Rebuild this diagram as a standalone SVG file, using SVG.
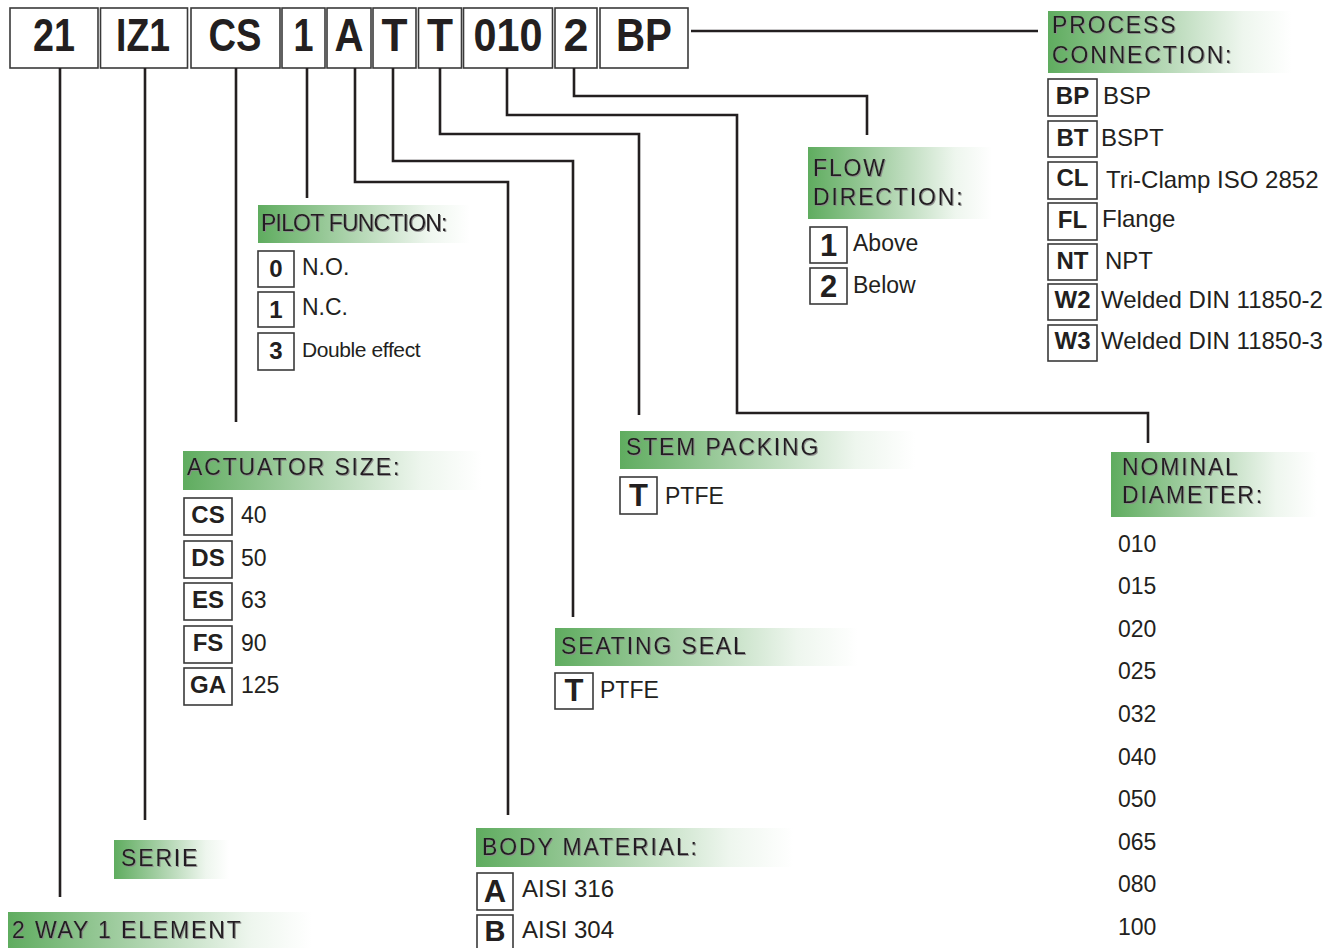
<svg xmlns="http://www.w3.org/2000/svg" width="1337" height="948" viewBox="0 0 1337 948">
<defs>
<linearGradient id="g" x1="0" y1="0" x2="1" y2="0">
<stop offset="0" stop-color="#5fac5f"/>
<stop offset="0.45" stop-color="#b0d5b0"/>
<stop offset="0.8" stop-color="#eef6ee"/>
<stop offset="1" stop-color="#ffffff"/>
</linearGradient>
<filter id="sh" x="-5%" y="-20%" width="110%" height="140%">
<feDropShadow dx="1" dy="1" stdDeviation="0.3" flood-color="#8a8a8a" flood-opacity="0.9"/>
</filter>
</defs>
<style>
text{font-family:"Liberation Sans",Arial,sans-serif;fill:#231f20}
.code rect{fill:#fff;stroke:#3a3a3a;stroke-width:1.6}
.ct{font-weight:bold;font-size:46px;text-anchor:middle}
.hd rect.bg{fill:url(#g)}
.ht{font-size:23px;letter-spacing:1.85px;filter:url(#sh)}
.box{fill:#fff;stroke:#3a3a3a;stroke-width:1.6}
.k{font-weight:bold;font-size:24px;text-anchor:middle}
.kb{font-weight:bold;font-size:31px;text-anchor:middle}
.v{font-size:23px}
.vl{font-size:24px}
#connectors path{fill:none;stroke:#231f20;stroke-width:2.6}
</style>
<rect width="1337" height="948" fill="#fff"/>

<g id="code" class="code">
<rect x="10" y="8" width="88" height="60"/><text class="ct" x="54" y="51" textLength="42" lengthAdjust="spacingAndGlyphs">21</text>
<rect x="100.5" y="8" width="87" height="60"/><text class="ct" x="143" y="51" textLength="54" lengthAdjust="spacingAndGlyphs">IZ1</text>
<rect x="191" y="8" width="89" height="60"/><text class="ct" x="235" y="51" textLength="53" lengthAdjust="spacingAndGlyphs">CS</text>
<rect x="282" y="8" width="43" height="60"/><text class="ct" x="303.5" y="51" textLength="20" lengthAdjust="spacingAndGlyphs">1</text>
<rect x="327" y="8" width="44" height="60"/><text class="ct" x="349" y="51" textLength="29" lengthAdjust="spacingAndGlyphs">A</text>
<rect x="373" y="8" width="43" height="60"/><text class="ct" x="394.5" y="51" textLength="26" lengthAdjust="spacingAndGlyphs">T</text>
<rect x="418.5" y="8" width="43" height="60"/><text class="ct" x="440" y="51" textLength="26" lengthAdjust="spacingAndGlyphs">T</text>
<rect x="463.5" y="8" width="89" height="60"/><text class="ct" x="508" y="51" textLength="69" lengthAdjust="spacingAndGlyphs">010</text>
<rect x="555" y="8" width="42" height="60"/><text class="ct" x="576" y="51" textLength="25" lengthAdjust="spacingAndGlyphs">2</text>
<rect x="600" y="8" width="88" height="60"/><text class="ct" x="644" y="51" textLength="56" lengthAdjust="spacingAndGlyphs">BP</text>
</g>

<g id="connectors">
<path d="M60,68V897"/>
<path d="M145,68V820"/>
<path d="M236,68V422"/>
<path d="M307,68V198"/>
<path d="M355,68V182H508V815"/>
<path d="M393,68V161H573V617"/>
<path d="M440,68V134H639V415"/>
<path d="M507,68V115H737V413H1148V443"/>
<path d="M574,68V96H867V135"/>
<path d="M691,31H1038"/>
</g>

<g id="process-connection" class="hd">
<rect class="bg" x="1048" y="11" width="244" height="62"/>
<text class="ht" x="1052" y="33">PROCESS</text>
<text class="ht" x="1052" y="63">CONNECTION:</text>
<rect class="box" x="1048" y="79" width="49" height="37"/><text class="k" x="1072.5" y="104">BP</text><text class="vl" x="1103" y="104">BSP</text>
<rect class="box" x="1048" y="121" width="49" height="36"/><text class="k" x="1072.5" y="146">BT</text><text class="vl" x="1101" y="146">BSPT</text>
<rect class="box" x="1048" y="162" width="49" height="37"/><text class="k" x="1072.5" y="186">CL</text><text class="vl" x="1106" y="188">Tri-Clamp ISO 2852</text>
<rect class="box" x="1048" y="203" width="49" height="37"/><text class="k" x="1072.5" y="228">FL</text><text class="vl" x="1102" y="227">Flange</text>
<rect class="box" x="1048" y="244" width="49" height="36"/><text class="k" x="1072.5" y="269">NT</text><text class="vl" x="1105" y="269">NPT</text>
<rect class="box" x="1048" y="284" width="49" height="36"/><text class="k" x="1072.5" y="308">W2</text><text class="vl" x="1101" y="308">Welded DIN 11850-2</text>
<rect class="box" x="1048" y="325" width="49" height="36"/><text class="k" x="1072.5" y="349">W3</text><text class="vl" x="1101" y="349">Welded DIN 11850-3</text>
</g>

<g id="flow-direction" class="hd">
<rect class="bg" x="808" y="147" width="184" height="72"/>
<text class="ht" x="813" y="176">FLOW</text>
<text class="ht" x="813" y="205">DIRECTION:</text>
<rect class="box" x="810" y="227" width="37" height="36"/><text class="kb" x="828.5" y="256">1</text><text class="v" x="853" y="251">Above</text>
<rect class="box" x="810" y="268" width="37" height="36"/><text class="kb" x="828.5" y="297">2</text><text class="v" x="853" y="293">Below</text>
</g>

<g id="pilot-function" class="hd">
<rect class="bg" x="258" y="205" width="212" height="38"/>
<text class="ht" x="261" y="231" style="letter-spacing:-0.8px">PILOT FUNCTION:</text>
<rect class="box" x="258" y="251" width="36" height="36"/><text class="k" x="276" y="277">0</text><text class="v" x="302" y="275">N.O.</text>
<rect class="box" x="258" y="292" width="36" height="35"/><text class="k" x="276" y="318">1</text><text class="v" x="302" y="315">N.C.</text>
<rect class="box" x="258" y="333" width="36" height="37"/><text class="k" x="276" y="359">3</text><text class="v" x="302" y="357" style="font-size:21px;letter-spacing:-0.4px">Double effect</text>
</g>

<g id="actuator-size" class="hd">
<rect class="bg" x="183" y="451" width="299" height="39"/>
<text class="ht" x="187" y="475">ACTUATOR SIZE:</text>
<rect class="box" x="184" y="498" width="48" height="37"/><text class="k" x="208" y="523">CS</text><text class="v" x="241" y="523">40</text>
<rect class="box" x="184" y="541" width="48" height="37"/><text class="k" x="208" y="566">DS</text><text class="v" x="241" y="566">50</text>
<rect class="box" x="184" y="583" width="48" height="37"/><text class="k" x="208" y="608">ES</text><text class="v" x="241" y="608">63</text>
<rect class="box" x="184" y="626" width="48" height="37"/><text class="k" x="208" y="651">FS</text><text class="v" x="241" y="651">90</text>
<rect class="box" x="184" y="668" width="48" height="37"/><text class="k" x="208" y="693">GA</text><text class="v" x="241" y="693">125</text>
</g>

<g id="stem-packing" class="hd">
<rect class="bg" x="620" y="431" width="295" height="38"/>
<text class="ht" x="626" y="455">STEM PACKING</text>
<rect class="box" x="620" y="477" width="37" height="37"/><text class="kb" x="638.5" y="506">T</text><text class="v" x="665" y="504">PTFE</text>
</g>

<g id="seating-seal" class="hd">
<rect class="bg" x="555" y="628" width="303" height="38"/>
<text class="ht" x="561" y="654">SEATING SEAL</text>
<rect class="box" x="555" y="673" width="38" height="36"/><text class="kb" x="574" y="701">T</text><text class="v" x="600" y="698">PTFE</text>
</g>

<g id="nominal-diameter" class="hd">
<rect class="bg" x="1111" y="452" width="206" height="65"/>
<text class="ht" x="1122" y="475">NOMINAL</text>
<text class="ht" x="1122" y="503">DIAMETER:</text>
<text class="v" x="1118" y="552">010</text>
<text class="v" x="1118" y="594">015</text>
<text class="v" x="1118" y="637">020</text>
<text class="v" x="1118" y="679">025</text>
<text class="v" x="1118" y="722">032</text>
<text class="v" x="1118" y="765">040</text>
<text class="v" x="1118" y="807">050</text>
<text class="v" x="1118" y="850">065</text>
<text class="v" x="1118" y="892">080</text>
<text class="v" x="1118" y="935">100</text>
</g>

<g id="body-material" class="hd">
<rect class="bg" x="476" y="828" width="317" height="39"/>
<text class="ht" x="482" y="855">BODY MATERIAL:</text>
<rect class="box" x="477" y="873" width="36" height="37"/><text class="kb" x="495" y="902">A</text><text class="vl" x="522" y="897">AISI 316</text>
<rect class="box" x="477" y="915" width="36" height="36"/><text class="kb" x="495" y="941" style="font-size:29px">B</text><text class="vl" x="522" y="938">AISI 304</text>
</g>

<g id="serie" class="hd">
<rect class="bg" x="114" y="840" width="115" height="39"/>
<text class="ht" x="121" y="866">SERIE</text>
</g>

<g id="way-element" class="hd">
<rect class="bg" x="8" y="912" width="304" height="40"/>
<text class="ht" x="12" y="938">2 WAY 1 ELEMENT</text>
</g>
</svg>
